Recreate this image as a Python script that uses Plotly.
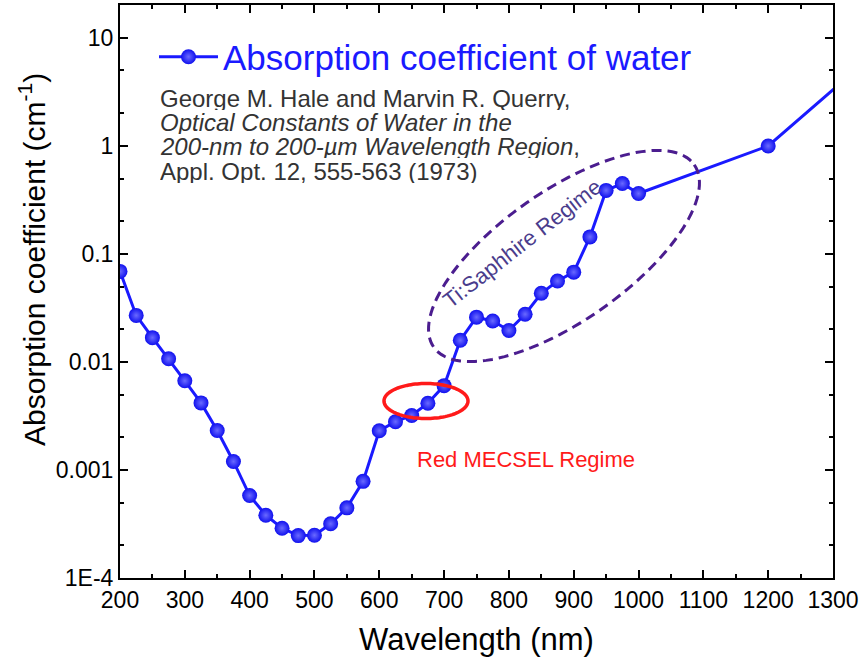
import numpy as np
import plotly.graph_objects as go

# Hale & Querry (1973): absorption coefficient of water, cm^-1
wavelength_nm = [200, 225, 250, 275, 300, 325, 350, 375, 400, 425, 450, 475,
                 500, 525, 550, 575, 600, 625, 650, 675, 700, 725, 750, 775,
                 800, 825, 850, 875, 900, 925, 950, 975, 1000, 1200, 1400]
alpha_cm = [0.069, 0.0270, 0.0168, 0.0107, 0.0067, 0.00418, 0.00232, 0.00120,
            0.000580, 0.000381, 0.000289, 0.000247, 0.000249, 0.000318,
            0.000446, 0.000785, 0.00231, 0.00280, 0.00320, 0.00415, 0.00604,
            0.0159, 0.0260, 0.0240, 0.0196, 0.0277, 0.0433, 0.0562, 0.0679,
            0.144, 0.388, 0.449, 0.363, 1.00, 11.0]

y_tickvals = [1e-4, 1e-3, 1e-2, 1e-1, 1, 10]
y_ticktext = ["1E-4", "0.001", "0.01", "0.1", "1", "10"]
x_tickvals = list(range(200, 1301, 100))

citation_lines = [
    "George M. Hale and Marvin R. Querry,",
    "<i>Optical Constants of Water in the</i>",
    "<i>200-nm to 200-µm Wavelength Region</i>,",
    "Appl. Opt. 12, 555-563 (1973)",
]

BLUE = "#1a1aff"
PURPLE = "#4b1d8f"
FONT = "Liberation Sans, Arial"

# plot area in pixels (for paper-space shapes and labels)
L, R, T, B = 120, 833, 5, 578
W, H = 864, 666


def px_to_paper(px, py):
    return (px - L) / (R - L), (B - py) / (B - T)


def ellipse_path(cx, cy, a, b, angle_deg, n=120):
    th = np.radians(angle_deg)
    pts = []
    for t in np.linspace(0, 2 * np.pi, n, endpoint=False):
        ex, ey = a * np.cos(t), b * np.sin(t)
        px = cx + ex * np.cos(th) + ey * np.sin(th)
        py = cy - ex * np.sin(th) + ey * np.cos(th)
        pts.append(px_to_paper(px, py))
    return "M " + " L ".join(f"{x:.5f},{y:.5f}" for x, y in pts) + " Z"


fig = go.Figure()
fig.add_trace(go.Scatter(
    x=wavelength_nm, y=alpha_cm, mode="lines+markers",
    name="Absorption coefficient of water",
    line=dict(color=BLUE, width=3),
    marker=dict(size=15, color="#1010ee",
                gradient=dict(type="radial", color="#6a6aff"),
                line=dict(width=0)),
))

# Ti:Sapphire and red MECSEL regions
fig.add_shape(type="path", xref="paper", yref="paper",
              path=ellipse_path(564, 256, 159, 65, 35),
              line=dict(color=PURPLE, width=3, dash="10px,6px"))
fig.add_shape(type="path", xref="paper", yref="paper",
              path=ellipse_path(426, 401, 42, 17.5, 0),
              line=dict(color="#ff1a1a", width=3.5))

for i, line_text in enumerate(citation_lines):
    fig.add_annotation(
        xref="paper", yref="paper",
        x=px_to_paper(158, 0)[0], y=px_to_paper(0, 98 + 24.4 * i)[1],
        xanchor="left", yanchor="middle", align="left", showarrow=False,
        height=23, valign="middle",
        text=line_text,
        font=dict(family=FONT, size=24, color="#333333"),
    )

fig.add_annotation(
    xref="paper", yref="paper", x=px_to_paper(526, 0)[0], y=px_to_paper(0, 459)[1],
    xanchor="center", yanchor="middle", showarrow=False,
    text="Red MECSEL Regime",
    font=dict(family=FONT, size=22, color="#ff1a1a"),
)
fig.add_annotation(
    xref="paper", yref="paper", x=px_to_paper(522, 0)[0], y=px_to_paper(0, 243)[1],
    xanchor="center", yanchor="middle", showarrow=False, textangle=-38,
    text="Ti:Saphhire Regime",
    font=dict(family=FONT, size=22, color="#4a3c8c"),
)

# y-axis title, set a little above the axis centre
fig.add_annotation(
    xref="paper", yref="paper", x=px_to_paper(32, 0)[0], y=px_to_paper(0, 260)[1],
    xanchor="center", yanchor="middle", showarrow=False, textangle=-90,
    text="Absorption coefficient (cm<sup>-1</sup>)",
    font=dict(family=FONT, size=30, color="black"),
)

axis_common = dict(
    showline=True, linecolor="black", linewidth=2, mirror="ticks",
    ticks="inside", ticklen=8, tickwidth=2, tickcolor="black",
    showgrid=False, zeroline=False,
)

fig.update_xaxes(
    range=[200, 1300], tickvals=x_tickvals,
    tickfont=dict(family=FONT, size=23, color="black"),
    title=dict(text="Wavelength (nm)",
               font=dict(family=FONT, size=31, color="black"),
               standoff=17),
    minor=dict(ticks="inside", ticklen=4, tickwidth=2, tickcolor="black",
               dtick=50, showgrid=False),
    **axis_common,
)
fig.update_yaxes(
    type="log", range=[-4, np.log10(20.2)],
    tickvals=y_tickvals, ticktext=y_ticktext,
    tickfont=dict(family=FONT, size=23, color="black"),
    minor=dict(ticks="inside", ticklen=4, tickwidth=2, tickcolor="black",
               showgrid=False),
    **axis_common,
)

fig.update_layout(
    width=W, height=H,
    margin=dict(l=L, r=W - R, t=T, b=H - B, autoexpand=False),
    plot_bgcolor="white", paper_bgcolor="white",
    showlegend=True,
    legend=dict(x=px_to_paper(154, 0)[0], y=px_to_paper(0, 57)[1],
                xanchor="left", yanchor="middle",
                bgcolor="rgba(0,0,0,0)",
                font=dict(family=FONT, size=35, color=BLUE),
                itemwidth=59),
)

fig.write_html("out.html")
